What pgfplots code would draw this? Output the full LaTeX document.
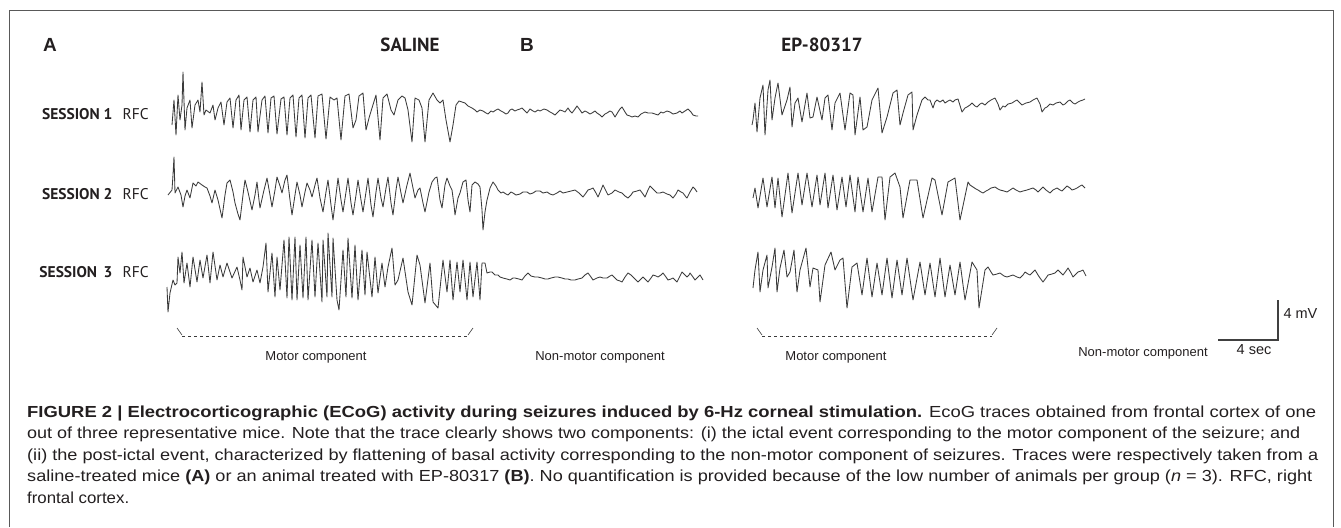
\documentclass[border=0pt]{standalone}
\usepackage{pgfplots}
\pgfplotsset{compat=1.18}
\usepackage{graphicx}
\usepackage{fontspec}
\setmainfont{Liberation Sans}
\newfontfamily\ptsans{PT Sans}
\definecolor{trc}{HTML}{3A3A3A}
\definecolor{txt}{HTML}{231F20}
\newcommand\capline[2]{\resizebox{#1}{\height}{#2}}
\begin{document}
\begin{tikzpicture}
\begin{axis}[
  scale only axis, width=1341pt, height=527pt,
  xmin=0, xmax=1341, ymin=0, ymax=527, y dir=reverse,
  hide axis, clip=false,
  trace/.style={draw=trc, line width=0.85pt, line join=round, mark=none},
]
% frame
\addplot[draw=none] coordinates {(0,0)(1341,527)};
\addplot[draw=black!65, line width=1pt, mark=none] coordinates {(9,527)(9,10)(1333,10)(1333,527)};

% ---------- A, session 1 ----------
\addplot[trace] coordinates {
(172,125)(174,100)(176,135)(178,95)(180,120)(182,105)(183,72)(185,130)(187,108)(190,100)(192,128)(195,105)(198,100)(200,112)(202,82)(204,115)(206,110)(210,113)(213,105)(215,120)(218,108)(221,102)(224,125)(227,102)(230,98)(233,128)(236,100)(239,95)(241,130)(244,100)(247,97)(250,132)(253,100)(256,97)(258,132)(262,100)(265,96)(268,133)(271,98)(274,96)(277,134)(281,99)(284,97)(287,135)(290,98)(293,95)(296,137)(299,98)(302,95)(305,138)(308,98)(311,95)(315,138)(318,96)(322,94)(326,139)(330,97)(334,100)(337,98)(341,140)(345,96)(349,94)(353,128)(356,120)(359,96)(363,93)(366,130)(369,118)(372,108)(376,95)(380,140)(383,98)(387,94)(391,110)(394,115)(398,100)(402,96)(405,98)(408,110)(412,142)(415,98)(419,100)(422,108)(425,142)(429,100)(433,93)(437,100)(440,103)(443,100)(446,120)(450,142)(453,125)(456,105)(459,101)
(462,102)(465,103)(468,106)(472,108)(475,110)(477,112)(480,110)(483,111)(486,113)(488,114)(491,111)(493,112)(496,110)(498,109)(501,111)(503,112)(506,114)(508,113)(510,110)(512,109)(515,111)(517,110)(520,109)(522,108)(525,111)(527,113)(530,109)(533,111)(535,112)(538,110)(540,111)(544,109)(547,110)(550,112)(552,113)(555,115)(558,112)(560,110)(563,111)(565,112)(568,108)(570,111)(572,113)(575,109)(577,106)(580,110)(582,113)(585,111)(587,112)(590,114)(592,113)(595,111)(597,113)(600,115)(602,117)(605,114)(607,113)(610,111)(612,112)(615,117)(618,112)(620,109)(622,107)(625,112)(627,115)(630,116)(632,117)(635,116)(638,117)(641,114)(645,112)(648,113)(652,113)(655,114)(658,115)(661,112)(663,113)(667,111)(670,112)(673,114)(677,113)(680,111)(682,113)(685,111)(688,109)(691,112)(693,115)(696,116)(698,116)
};

% ---------- A, session 2 ----------
\addplot[trace] coordinates {
(168,195)(172,190)(173,175)(174,157)(175,193)(178,187)(181,195)(183,207)(185,196)(187,190)(190,198)(193,183)(196,186)(198,182)(202,185)(205,187)(207,188)(210,196)(212,203)(215,190)(218,200)(222,218)(225,195)(227,183)(230,180)(233,192)(235,203)(238,214)(240,220)(243,195)(245,180)(248,192)(252,210)(255,195)(257,182)(259,200)(260,208)(264,190)(267,178)(270,195)(272,207)(275,190)(277,177)(280,186)(282,193)(285,180)(287,175)(290,200)(292,215)(295,195)(297,182)(300,195)(302,207)(305,192)(307,183)(310,190)(312,197)(315,185)(317,178)(320,198)(323,212)(326,192)(328,180)(331,205)(333,220)(336,195)(338,178)(341,200)(343,212)(346,192)(348,178)(351,203)(353,215)(356,195)(358,180)(361,200)(363,212)(366,192)(368,178)(371,205)(373,217)(376,192)(378,178)(381,198)(383,207)(386,188)(388,177)(391,203)(393,215)(396,190)(398,177)(401,193)(403,203)(407,185)(410,173)(413,188)(415,198)(418,190)(420,188)(423,203)(425,212)(429,192)(432,182)(435,178)(437,177)(440,200)(442,208)(445,185)(447,178)(450,186)(452,190)(454,205)(455,215)(458,198)(460,193)(463,182)(466,180)(468,200)(470,212)(472,185)(475,182)(478,184)(480,187)(482,210)(483,230)(485,212)(487,200)(490,188)(493,182)(496,186)(498,190)
(501,193)(503,192)(506,194)(508,195)(511,192)(513,193)(516,195)(520,194)(523,192)(527,192)(530,194)(533,193)(536,191)(540,191)(543,193)(547,192)(550,194)(553,195)(557,193)(560,191)(563,193)(567,192)(571,191)(575,190)(579,193)(583,197)(586,193)(588,190)(591,189)(593,188)(596,193)(598,197)(601,190)(603,185)(606,191)(608,195)(612,193)(615,190)(619,192)(622,193)(625,196)(628,198)(631,195)(633,192)(637,191)(640,190)(643,194)(645,197)(648,190)(650,186)(654,190)(657,193)(660,193)(663,192)(667,194)(670,195)(673,198)(676,194)(678,190)(681,192)(683,193)(686,197)(687,198)(690,192)(693,187)(695,189)(697,192)
};

% ---------- A, session 3 ----------
\addplot[trace] coordinates {
(167,287)(168,312)(170,293)(173,280)(175,285)(177,283)(178,257)(180,273)(182,252)(184,283)(187,263)(190,287)(193,257)(197,282)(200,260)(203,278)(207,255)(210,283)(213,252)(217,280)(220,265)(223,277)(227,263)(232,278)(237,267)(240,280)(242,290)(243,257)(247,277)(250,268)(253,282)(257,270)(260,283)(263,267)(266,243)(268,292)(272,253)(275,297)(277,257)(280,290)(284,240)(287,298)(289,237)(292,300)(295,237)(297,300)(300,245)(303,298)(306,237)(308,300)(312,240)(315,297)(318,243)(322,302)(323,240)(327,297)(328,233)(332,297)(333,238)(337,300)(339,310)(343,250)(346,297)(348,238)(352,298)(355,245)(358,300)(362,250)(365,295)(367,252)(372,297)(375,257)(378,293)(382,263)(385,287)(388,267)(392,248)(395,285)(398,280)(403,258)(408,292)(412,305)(417,255)(420,265)(425,303)(430,263)(433,302)(438,308)(443,260)(447,292)(450,260)(453,300)(457,262)(460,292)(463,260)(467,300)(470,262)(473,297)(477,262)(480,300)(482,263)(485,263)(487,273)
(490,272)(492,272)(495,275)(498,275)(500,277)(503,278)(507,279)(510,280)(513,278)(515,278)(519,279)(522,280)(525,276)(528,273)(531,276)(535,277)(538,277)(542,278)(545,279)(548,279)(551,278)(555,277)(558,277)(562,278)(565,279)(568,279)(571,280)(575,280)(578,279)(582,278)(585,275)(588,273)(591,277)(593,280)(597,278)(600,277)(603,278)(607,278)(610,276)(612,275)(615,278)(617,280)(620,281)(622,282)(625,277)(628,273)(631,275)(633,277)(636,280)(638,282)(641,279)(643,277)(646,280)(648,282)(651,278)(653,275)(656,276)(658,277)(661,275)(663,273)(666,277)(668,280)(671,279)(673,278)(675,280)(677,282)(680,276)(682,272)(685,275)(687,277)(689,275)(690,273)(693,277)(695,280)(698,277)(700,275)(703,280)
};

% ---------- B, session 1 ----------
\addplot[trace] coordinates {
(752,125)(753,120)(755,103)(757,132)(760,98)(763,85)(765,135)(768,90)(770,80)(772,120)(775,98)(778,83)(782,115)(787,100)(790,87)(792,127)(795,103)(798,98)(802,122)(807,93)(810,118)(813,117)(817,97)(822,120)(825,98)(828,95)(832,130)(835,103)(840,93)(845,130)(850,93)(853,95)(855,135)(860,97)(863,130)(867,127)(872,100)(878,88)(882,133)(887,117)(893,93)(897,90)(900,125)(903,113)(908,95)(912,92)(913,130)(917,115)(922,100)
(925,97)(928,100)(930,100)(933,108)(935,102)(937,100)(940,102)(943,100)(945,103)(948,101)(950,100)(953,102)(955,100)(958,99)(962,112)(965,108)(967,107)(970,105)(972,103)(975,106)(977,107)(980,104)(982,103)(985,105)(988,102)(991,100)(995,98)(998,104)(1000,110)(1003,106)(1005,107)(1008,104)(1012,103)(1015,101)(1017,100)(1020,103)(1022,105)(1026,103)(1030,102)(1033,100)(1037,98)(1040,104)(1042,112)(1045,108)(1047,107)(1050,104)(1053,105)(1056,103)(1060,102)(1063,105)(1065,104)(1068,101)(1070,100)(1073,103)(1075,104)(1078,102)(1080,101)(1083,100)(1085,99)
};

% ---------- B, session 2 ----------
\addplot[trace] coordinates {
(753,198)(755,188)(758,208)(763,178)(767,207)(772,177)(775,208)(778,178)(782,217)(788,173)(792,213)(798,173)(802,205)(807,173)(812,207)(817,175)(820,205)(825,173)(828,208)(833,175)(837,210)(842,177)(846,207)(850,175)(855,212)(858,177)(863,212)(868,178)(872,212)(878,177)(882,177)(885,220)(890,177)(895,173)(900,187)(903,218)(910,180)(917,180)(923,218)(932,178)(935,180)(942,215)(948,182)(955,178)(960,220)(968,182)
(970,185)(973,187)(976,189)(978,190)(981,192)(983,193)(986,191)(988,190)(991,188)(995,187)(998,189)(1000,190)(1004,191)(1007,192)(1010,190)(1013,188)(1016,190)(1020,192)(1023,191)(1027,190)(1030,189)(1033,188)(1036,190)(1038,192)(1041,189)(1043,187)(1046,190)(1050,193)(1053,190)(1057,188)(1060,190)(1062,191)(1065,188)(1067,186)(1070,188)(1072,190)(1075,189)(1077,188)(1080,186)(1082,185)(1085,188)
};

% ---------- B, session 3 ----------
\addplot[trace] coordinates {
(753,288)(755,270)(758,252)(760,292)(763,270)(767,255)(768,288)(772,267)(775,248)(777,292)(780,268)(784,250)(787,277)(790,272)(794,250)(797,292)(800,270)(806,248)(810,287)(813,268)(818,270)(820,302)(825,265)(831,252)(835,270)(840,260)(843,258)(847,308)(852,267)(857,263)(862,295)(867,258)(872,297)(877,263)(882,295)(887,258)(892,298)(897,260)(902,295)(907,258)(913,300)(920,262)(925,295)(930,263)(935,297)(940,258)(945,297)(950,265)(955,295)(960,262)(965,300)(972,262)(977,270)(979,308)(985,270)
(988,267)(991,272)(993,275)(997,274)(1000,273)(1004,276)(1007,277)(1010,276)(1013,275)(1017,277)(1020,278)(1023,275)(1025,272)(1028,274)(1030,275)(1033,272)(1035,270)(1038,275)(1040,278)(1043,282)(1046,278)(1048,275)(1052,274)(1055,273)(1058,270)(1061,273)(1063,275)(1066,271)(1068,268)(1071,273)(1073,277)(1076,274)(1078,272)(1081,271)(1083,270)(1086,276)
};

% ---------- brackets ----------
\addplot[draw=trc, line width=0.6pt, mark=none] coordinates {(177,328)(182,335)};
\addplot[draw=trc, line width=0.6pt, dashed, mark=none] coordinates {(182,336)(468,336)};
\addplot[draw=trc, line width=0.6pt, mark=none] coordinates {(468,335)(473,328)};
\addplot[draw=trc, line width=0.6pt, mark=none] coordinates {(757,328)(762,335)};
\addplot[draw=trc, line width=0.6pt, dashed, mark=none] coordinates {(762,336)(992,336)};
\addplot[draw=trc, line width=0.6pt, mark=none] coordinates {(992,335)(997,328)};

% ---------- scale bar ----------
\addplot[draw=black!75, line width=1.2pt, mark=none] coordinates {(1278,300)(1278,340)(1218,340)};

% ---------- texts ----------
\node[anchor=center, text=txt, font=\fontsize{19}{22}\selectfont\bfseries] at (axis cs:50,45) {A};
\node[anchor=center, text=txt, font=\fontsize{19}{22}\selectfont\ptsans\bfseries] at (axis cs:410,45) {SALINE};
\node[anchor=center, text=txt, font=\fontsize{19}{22}\selectfont\bfseries] at (axis cs:527,45) {B};
\node[anchor=center, text=txt, font=\fontsize{19}{22}\selectfont\ptsans\bfseries] at (axis cs:822,45) {EP-80317};

\node[anchor=east, text=txt, font=\fontsize{15.5}{17}\selectfont\ptsans\bfseries] at (axis cs:116,114) {SESSION 1};
\node[anchor=west, text=txt, font=\fontsize{15.5}{17}\selectfont\ptsans] at (axis cs:119,114) {RFC};
\node[anchor=east, text=txt, font=\fontsize{15.5}{17}\selectfont\ptsans\bfseries] at (axis cs:116,194) {SESSION 2};
\node[anchor=west, text=txt, font=\fontsize{15.5}{17}\selectfont\ptsans] at (axis cs:119,194) {RFC};
\node[anchor=east, text=txt, font=\fontsize{15.5}{17}\selectfont\ptsans\bfseries] at (axis cs:116,272) {SESSION\ \,3};
\node[anchor=west, text=txt, font=\fontsize{15.5}{17}\selectfont\ptsans] at (axis cs:119,272) {RFC};

\node[anchor=center, text=txt, font=\fontsize{13}{15}\selectfont] at (axis cs:316,357) {Motor component};
\node[anchor=center, text=txt, font=\fontsize{13}{15}\selectfont] at (axis cs:600,357) {Non-motor component};
\node[anchor=center, text=txt, font=\fontsize{13}{15}\selectfont] at (axis cs:836,357) {Motor component};
\node[anchor=center, text=txt, font=\fontsize{13}{15}\selectfont] at (axis cs:1143,353) {Non-motor component};
\node[anchor=center, text=txt, font=\fontsize{14.5}{16}\selectfont] at (axis cs:1254,350) {4 sec};
\node[anchor=west, text=txt, font=\fontsize{14.5}{16}\selectfont] at (axis cs:1280,314) {4 mV};

% ---------- caption ----------
\node[anchor=base west, inner sep=0pt, text=txt, font=\fontsize{16}{20}\selectfont] at (axis cs:27,417) {\capline{1289pt}{\textbf{FIGURE 2 | Electrocorticographic (ECoG) activity during seizures induced by 6-Hz corneal stimulation.} EcoG traces obtained from frontal cortex of one}};
\node[anchor=base west, inner sep=0pt, text=txt, font=\fontsize{16}{20}\selectfont] at (axis cs:27,438.5) {\capline{1273pt}{out of three representative mice. Note that the trace clearly shows two components: (i) the ictal event corresponding to the motor component of the seizure; and}};
\node[anchor=base west, inner sep=0pt, text=txt, font=\fontsize{16}{20}\selectfont] at (axis cs:27,460) {\capline{1291pt}{(ii) the post-ictal event, characterized by flattening of basal activity corresponding to the non-motor component of seizures. Traces were respectively taken from a}};
\node[anchor=base west, inner sep=0pt, text=txt, font=\fontsize{16}{20}\selectfont] at (axis cs:27,481.5) {\capline{1285pt}{saline-treated mice \textbf{(A)} or an animal treated with EP-80317 \textbf{(B)}. No quantification is provided because of the low number of animals per group (\textit{n} = 3). RFC, right}};
\node[anchor=base west, inner sep=0pt, text=txt, font=\fontsize{16}{20}\selectfont] at (axis cs:27,503) {\resizebox{102pt}{\height}{frontal cortex.}};
\end{axis}
\end{tikzpicture}
\end{document}
